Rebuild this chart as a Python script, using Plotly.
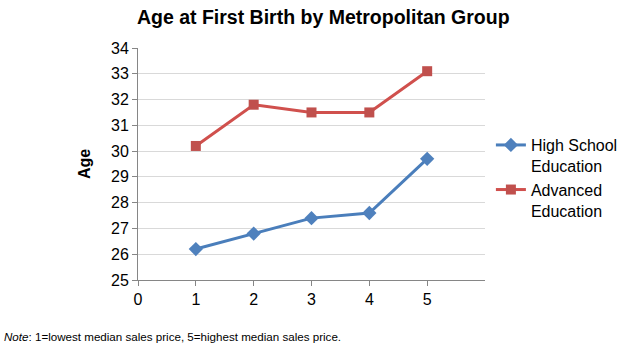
import plotly.graph_objects as go

groups = [1, 2, 3, 4, 5]
high_school = [26.2, 26.8, 27.4, 27.6, 29.7]
advanced = [30.2, 31.8, 31.5, 31.5, 33.1]
x_ticks = [0, 1, 2, 3, 4, 5]
y_ticks = [25, 26, 27, 28, 29, 30, 31, 32, 33, 34]

FONT = "Liberation Sans, Arial, sans-serif"

fig = go.Figure()
fig.add_trace(go.Scatter(
    x=groups, y=high_school, mode="lines+markers",
    name="High School<br>Education",
    line=dict(color="#4A7EBB", width=3),
    marker=dict(symbol="diamond", size=11, color="#4F81BD"),
))
fig.add_trace(go.Scatter(
    x=groups, y=advanced, mode="lines+markers",
    name="Advanced<br>Education",
    line=dict(color="#D0504D", width=3),
    marker=dict(symbol="square", size=10, color="#C0504D"),
))

fig.update_layout(
    width=624, height=349,
    margin=dict(l=138, r=139, t=48, b=69, autoexpand=False),
    paper_bgcolor="white", plot_bgcolor="white",
    font=dict(family=FONT, size=16, color="#000000"),
    title=dict(text="<b>Age at First Birth by Metropolitan Group</b>",
               x=0.518, xanchor="center", y=0.95, yanchor="middle",
               font=dict(size=19.5, color="#000000", family=FONT)),
    showlegend=True,
    legend=dict(x=1.017, xanchor="left", y=0.655, yanchor="top",
                valign="top", tracegroupgap=2, bgcolor="rgba(0,0,0,0)",
                font=dict(size=16, family=FONT)),
    xaxis=dict(range=[0, 6], tickvals=x_ticks, ticktext=[str(v) for v in x_ticks],
               showgrid=False, zeroline=False, showline=True,
               linecolor="#868686", linewidth=1,
               ticks="outside", ticklen=5, tickcolor="#868686",
               tickfont=dict(size=16, family=FONT)),
    yaxis=dict(range=[25, 34], tickvals=y_ticks,
               showgrid=True, gridcolor="#D9D9D9", gridwidth=1,
               zeroline=False, showline=True, linecolor="#868686", linewidth=1,
               ticks="outside", ticklen=5, tickcolor="#868686",
               tickfont=dict(size=16, family=FONT),
               title=dict(text="<b>Age</b>", font=dict(size=16, family=FONT), standoff=16)),
)

fig.add_annotation(
    text="<i>Note</i>: 1=lowest median sales price, 5=highest median sales price.",
    xref="paper", yref="paper", x=-136/347, y=-56/232,
    xanchor="left", yanchor="middle", showarrow=False,
    font=dict(size=11.6, family=FONT, color="#000000"),
)

fig.write_html("out.html", config={"displayModeBar": False},
               post_script="document.body.style.margin='0';")
